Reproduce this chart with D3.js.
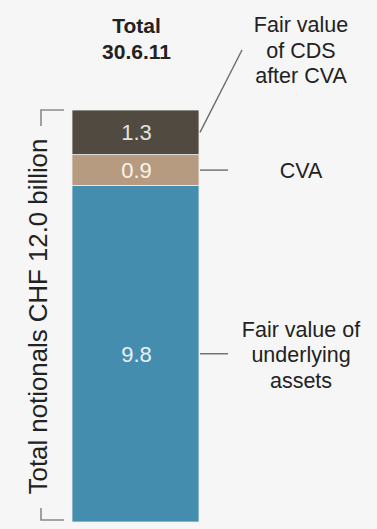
<!DOCTYPE html>
<html>
<head>
<meta charset="utf-8">
<script src="https://cdn.jsdelivr.net/npm/d3@7"></script>
<style>
  html, body { margin: 0; padding: 0; background: #f6f6f6; }
  svg { display: block; font-family: "Liberation Sans", Arial, sans-serif; }
</style>
</head>
<body>
<svg id="chart" width="377" height="529"></svg>
<script>
// Stacked components of the total notional, bottom to top
const segments = ["Fair value of underlying assets", "CVA", "Fair value of CDS after CVA"];
const values = [9.8, 0.9, 1.3];
const colors = ["#458daf", "#b69b81", "#514a40"];
const valueColors = ["#e8f1f6", "#fbf4ec", "#e2e2de"];
const labelLines = [["Fair value of", "underlying", "assets"], ["CVA"], ["Fair value", "of CDS", "after CVA"]];
const titleLines = ["Total", "30.6.11"];
const totalLabel = "Total notionals CHF 12.0 billion";
const total = 12.0;

const svg = d3.select("#chart");

const y = d3.scaleLinear().domain([0, total]).range([522, 110]);
const x = d3.scaleBand().domain(["30.6.11"]).range([72, 199]).padding(0);

// cumulative stack
const stackData = [];
let acc = 0;
values.forEach((v, i) => {
  stackData.push({ name: segments[i], value: v, y0: acc, y1: acc + v, i });
  acc += v;
});

const bx = x("30.6.11");
const bw = x.bandwidth();

svg.append("g").selectAll("rect")
  .data(stackData)
  .join("rect")
  .attr("x", bx)
  .attr("width", bw)
  .attr("y", d => y(d.y1))
  .attr("height", d => y(d.y0) - y(d.y1))
  .attr("fill", d => colors[d.i])
  .attr("stroke", "#eef0f0")
  .attr("stroke-width", 0.8);

// value labels inside the segments
svg.append("g").selectAll("text")
  .data(stackData)
  .join("text")
  .attr("x", bx + bw / 2 + 1)
  .attr("y", d => y((d.y0 + d.y1) / 2) + 8)
  .attr("text-anchor", "middle")
  .attr("font-size", 22)
  .attr("fill", d => valueColors[d.i])
  .text(d => d.value.toFixed(1));

// title
svg.append("g").selectAll("text")
  .data(titleLines)
  .join("text")
  .attr("x", bx + bw / 2 + 1)
  .attr("y", (d, i) => 33 + i * 26)
  .attr("text-anchor", "middle")
  .attr("font-size", 21)
  .attr("font-weight", "bold")
  .attr("fill", "#222")
  .text(d => d);

// leader lines and right-hand labels
const leaderColor = "#6b6b6b";
const labelX = 301;
const barRight = bx + bw + 1;
stackData.forEach(d => {
  const my = y((d.y0 + d.y1) / 2);
  const g = svg.append("g");
  const lines = labelLines[d.i];
  let firstBaseline;
  if (d.i === 2) {
    g.append("line")
      .attr("x1", barRight).attr("y1", my)
      .attr("x2", 242).attr("y2", 50)
      .attr("stroke", leaderColor).attr("stroke-width", 1.4);
    firstBaseline = 32;
  } else {
    g.append("line")
      .attr("x1", barRight).attr("y1", my)
      .attr("x2", 228).attr("y2", my)
      .attr("stroke", leaderColor).attr("stroke-width", 1.4);
    firstBaseline = my + 8 - (lines.length - 1) / 2 * 25;
  }
  g.selectAll("text")
    .data(lines)
    .join("text")
    .attr("x", labelX)
    .attr("y", (t, k) => firstBaseline + k * 25.5)
    .attr("text-anchor", "middle")
    .attr("font-size", 21.5)
    .attr("fill", "#222")
    .text(t => t);
});

// bracket spanning the full notional
const bracketColor = "#8a8a8a";
const bTop = y(total), bBottom = y(0) - 2;
svg.append("path")
  .attr("d", `M64,${bTop}H41V${bTop + 16}`)
  .attr("fill", "none").attr("stroke", bracketColor).attr("stroke-width", 1.6);
svg.append("path")
  .attr("d", `M41,${bBottom - 12}V${bBottom}H64`)
  .attr("fill", "none").attr("stroke", bracketColor).attr("stroke-width", 1.6);

svg.append("text")
  .attr("transform", `translate(47,${(bTop + bBottom) / 2 + 1.5}) rotate(-90)`)
  .attr("text-anchor", "middle")
  .attr("font-size", 25.8)
  .attr("fill", "#222")
  .text(totalLabel);
</script>
</body>
</html>
